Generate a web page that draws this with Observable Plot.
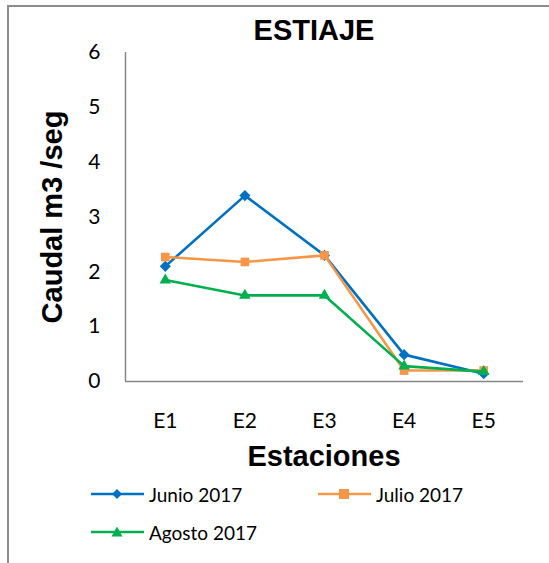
<!DOCTYPE html>
<html>
<head>
<meta charset="utf-8">
<script src="https://cdn.jsdelivr.net/npm/d3@7"></script>
<script src="https://cdn.jsdelivr.net/npm/@observablehq/plot@0.6"></script>
<style>
  html, body { margin: 0; padding: 0; background: #fff; }
  #wrap { position: relative; width: 549px; height: 563px; overflow: hidden; background: #fff; }
  #border { position: absolute; left: 7px; top: 5px; width: 600px; height: 600px; border-left: 2px solid #8c8c8c; border-top: 2px solid #8c8c8c; box-sizing: border-box; }
  #chart { position: absolute; left: 0; top: 0; }
  .title { position: absolute; font-family: "Liberation Sans", Arial, sans-serif; font-weight: bold; font-size: 29px; color: #000; white-space: nowrap; }
  #ttl { left: 314px; top: 30px; transform: translate(-50%, -50%); }
  #xlab { left: 324px; top: 456px; transform: translate(-50%, -50%); }
  #ylab { left: 52px; top: 217px; transform: translate(-50%, -50%) rotate(-90deg); }
  .leg { position: absolute; font-family: Lato, "Open Sans", sans-serif; font-size: 19px; color: #000; display: flex; align-items: center; white-space: nowrap; }
  .leg svg { margin-right: 5px; }
</style>
</head>
<body>
<div id="wrap">
  <div id="border"></div>
  <div id="chart"></div>
  <div class="title" id="ttl">ESTIAJE</div>
  <div class="title" id="xlab">Estaciones</div>
  <div class="title" id="ylab">Caudal m3 /seg</div>
  <div id="legend"></div>
</div>
<script>
// ---- data ----
const stations = ["E1", "E2", "E3", "E4", "E5"];
const seriesNames = ["Junio 2017", "Julio 2017", "Agosto 2017"];
const junio = [2.10, 3.39, 2.30, 0.49, 0.14];
const julio = [2.27, 2.18, 2.30, 0.20, 0.20];
const agosto = [1.85, 1.57, 1.57, 0.28, 0.18];
const yTicks = [0, 1, 2, 3, 4, 5, 6];

// ---- styles ----
const colors = ["#0070C0", "#F79646", "#00B050"];
const symbols = ["diamond2", "square2", "triangle2"];
const radii = [5, 5.5, 5.5];

const allValues = [junio, julio, agosto];
const rows = [];
allValues.forEach((vals, s) => vals.forEach((v, i) => rows.push({series: seriesNames[s], i: i + 1, v})));

const marks = [
  Plot.ruleY([0], {stroke: "#868686", strokeWidth: 1.5}),
  Plot.ruleX([0.5], {stroke: "#868686", strokeWidth: 1.5}),
  Plot.axisY({ticks: yTicks, tickFormat: d3.format("d"), tickSize: 0, tickPadding: 25, fontSize: 21, label: null}),
  Plot.axisX({ticks: stations.map((_, i) => i + 1), tickFormat: d => stations[d - 1], tickSize: 0, tickPadding: 32, fontSize: 21, label: null})
];
seriesNames.forEach((name, s) => {
  const d = rows.filter(r => r.series === name);
  marks.push(Plot.line(d, {x: "i", y: "v", stroke: colors[s], strokeWidth: 2.6}));
  marks.push(Plot.dot(d, {x: "i", y: "v", fill: colors[s], stroke: "none", symbol: () => symbols[s], r: radii[s]}));
});

const chart = Plot.plot({
  width: 549,
  height: 470,
  marginLeft: 125,
  marginRight: 26,
  marginTop: 52,
  marginBottom: 89,
  style: {fontFamily: "Lato, 'Open Sans', sans-serif", fontSize: "21px", color: "#000", background: "transparent"},
  x: {domain: [0.5, 5.5]},
  y: {domain: [0, 6]},
  marks
});
document.getElementById("chart").appendChild(chart);

// ---- legend ----
const legendPos = [
  {x: 91, y: 494}, {x: 318, y: 494}, {x: 91, y: 532}
];
const legend = document.getElementById("legend");
seriesNames.forEach((name, s) => {
  const div = document.createElement("div");
  div.className = "leg";
  div.style.left = legendPos[s].x + "px";
  div.style.top = (legendPos[s].y - 13) + "px";
  div.style.height = "26px";
  let sym;
  if (s === 0) sym = `<path d="M26,8 L31,13 L26,18 L21,13 Z" fill="${colors[s]}"/>`;
  else if (s === 1) sym = `<rect x="21" y="8" width="10" height="10" fill="${colors[s]}"/>`;
  else sym = `<path d="M26,7.5 L31.5,17.5 L20.5,17.5 Z" fill="${colors[s]}"/>`;
  div.innerHTML = `<svg width="53" height="26"><line x1="0" y1="13" x2="53" y2="13" stroke="${colors[s]}" stroke-width="2.6"/>${sym}</svg><span>${name}</span>`;
  legend.appendChild(div);
});
</script>
</body>
</html>
